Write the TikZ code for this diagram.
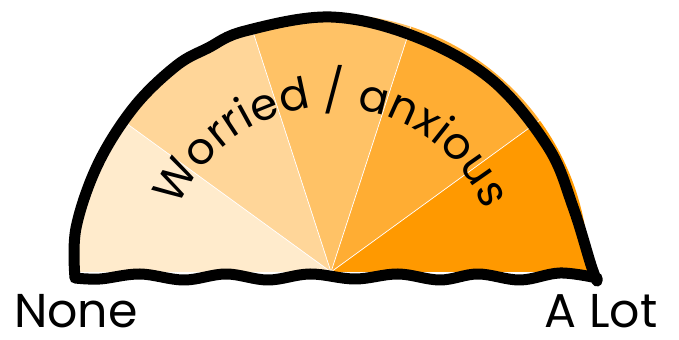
\documentclass[tikz,border=0pt]{standalone}
\usepackage{fontspec}
\newfontfamily\gaugefont{Poppins}
\usetikzlibrary{decorations.text}
\definecolor{accent1}{HTML}{FF9900}

\begin{document}
\begin{tikzpicture}[x=0.02cm, y=0.02cm, wedge/.style={fill=accent1!#1}, rim/.style={draw=black, line width=0.22cm, line join=round, line cap=round}, endlabel/.style={font=\gaugefont\fontsize{27}{30}\selectfont, inner sep=0pt, anchor=base}]
\useasboundingbox (0,0) rectangle (679,340);
% five bands, full colour on the right
\foreach \i/\shade in {0/100,1/80,2/60,3/40,4/20}
  \path[wedge=\shade] (331,68) -- ++(\i*36:258) arc (\i*36:\i*36+36:258) -- cycle;
\foreach \i in {1,...,4}
  \draw[white, line width=0.4pt] (331,68) -- ++(\i*36:258);
% hand drawn rim
\draw[rim] plot[smooth, tension=0.6] coordinates {(75,62) (76,112) (98,176) (134,233) (176,274) (208,292) (245,309) (331,323) (416,303) (492,260) (548,193) (573,133) (591,75) (597,59)}
  -- plot[smooth, tension=0.6] coordinates {(597,62) (560,67) (520,60) (478,66) (440,60) (398,66) (355,61) (310,66) (268,60) (226,66) (184,60) (140,66) (100,61) (75,62)};
% label round the top
\path[decorate, decoration={text along path, text={|\gaugefont\fontsize{25}{25}\selectfont|Worried / anxious}, text align={fit to path}}] (331,68) ++(157:165) arc (157:22:165);
\node[endlabel] (none) at (76,12) {None};
\node[endlabel] (alot) at (601,12) {A Lot};
\end{tikzpicture}
\end{document}
